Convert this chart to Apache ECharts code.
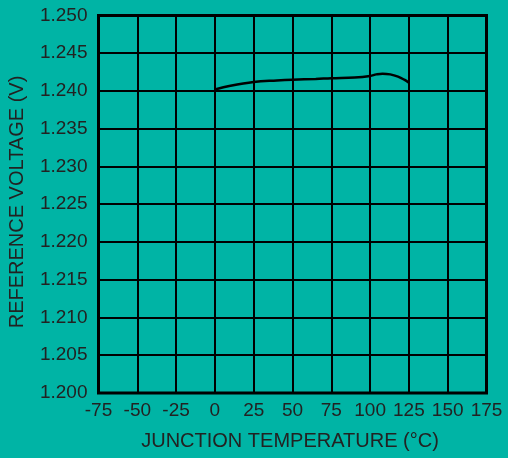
<!DOCTYPE html>
<html>
<head>
<meta charset="utf-8">
<script src="https://cdn.jsdelivr.net/npm/echarts@6/dist/echarts.min.js"></script>
<style>
  html, body { margin: 0; padding: 0; background: #00b4a5; }
  #chart { width: 508px; height: 458px; }
</style>
</head>
<body>
<div id="chart"></div>
<script>
// Reference voltage vs junction temperature
const temperatureC = [0, 10, 25, 40, 50, 65, 75, 90, 100, 104, 108, 113, 118, 122, 125];
const referenceV   = [1.2402, 1.2407, 1.2412, 1.2414, 1.2415, 1.2416, 1.2417, 1.2418, 1.2420, 1.2422, 1.2423, 1.2422, 1.2419, 1.2415, 1.2411];
const xTicks = [-75, -50, -25, 0, 25, 50, 75, 100, 125, 150, 175];
const yTicks = [1.200, 1.205, 1.210, 1.215, 1.220, 1.225, 1.230, 1.235, 1.240, 1.245, 1.250];

const textColor = '#222222';
const fontFamily = 'Liberation Sans, Arial, Helvetica, sans-serif';

const chart = echarts.init(document.getElementById('chart'), null, { renderer: 'canvas' });

chart.setOption({
  backgroundColor: '#00b4a5',
  animation: false,
  grid: {
    left: 98.5, top: 15.5, right: 21.5, bottom: 65,
    show: true, borderColor: '#000', borderWidth: 3, backgroundColor: 'transparent'
  },
  xAxis: {
    type: 'value',
    min: xTicks[0], max: xTicks[xTicks.length - 1], interval: 25,
    axisLine: { show: false },
    axisTick: { show: false },
    splitLine: { show: true, lineStyle: { color: '#000', width: 2 } },
    axisLabel: {
      color: textColor, fontSize: 19, fontFamily: fontFamily, margin: 8,
      formatter: v => String(v)
    }
  },
  yAxis: {
    type: 'value',
    min: yTicks[0], max: yTicks[yTicks.length - 1], interval: 0.005,
    axisLine: { show: false },
    axisTick: { show: false },
    splitLine: { show: true, lineStyle: { color: '#000', width: 2 } },
    axisLabel: {
      color: textColor, fontSize: 19, fontFamily: fontFamily, margin: 11,
      formatter: v => v.toFixed(3)
    }
  },
  series: [{
    type: 'line',
    data: temperatureC.map((t, i) => [t, referenceV[i]]),
    smooth: 0.4,
    showSymbol: false,
    lineStyle: { color: '#000', width: 2.5 }
  }],
  graphic: [
    {
      type: 'text',
      x: 290, y: 441,
      style: {
        text: 'JUNCTION TEMPERATURE (°C)',
        fill: textColor, fontSize: 20, fontFamily: fontFamily,
        align: 'center', verticalAlign: 'middle'
      }
    },
    {
      type: 'text',
      x: 17.5, y: 202,
      rotation: Math.PI / 2,
      style: {
        text: 'REFERENCE VOLTAGE (V)',
        fill: textColor, fontSize: 20, fontFamily: fontFamily,
        align: 'center', verticalAlign: 'middle'
      }
    }
  ]
});
</script>
</body>
</html>
